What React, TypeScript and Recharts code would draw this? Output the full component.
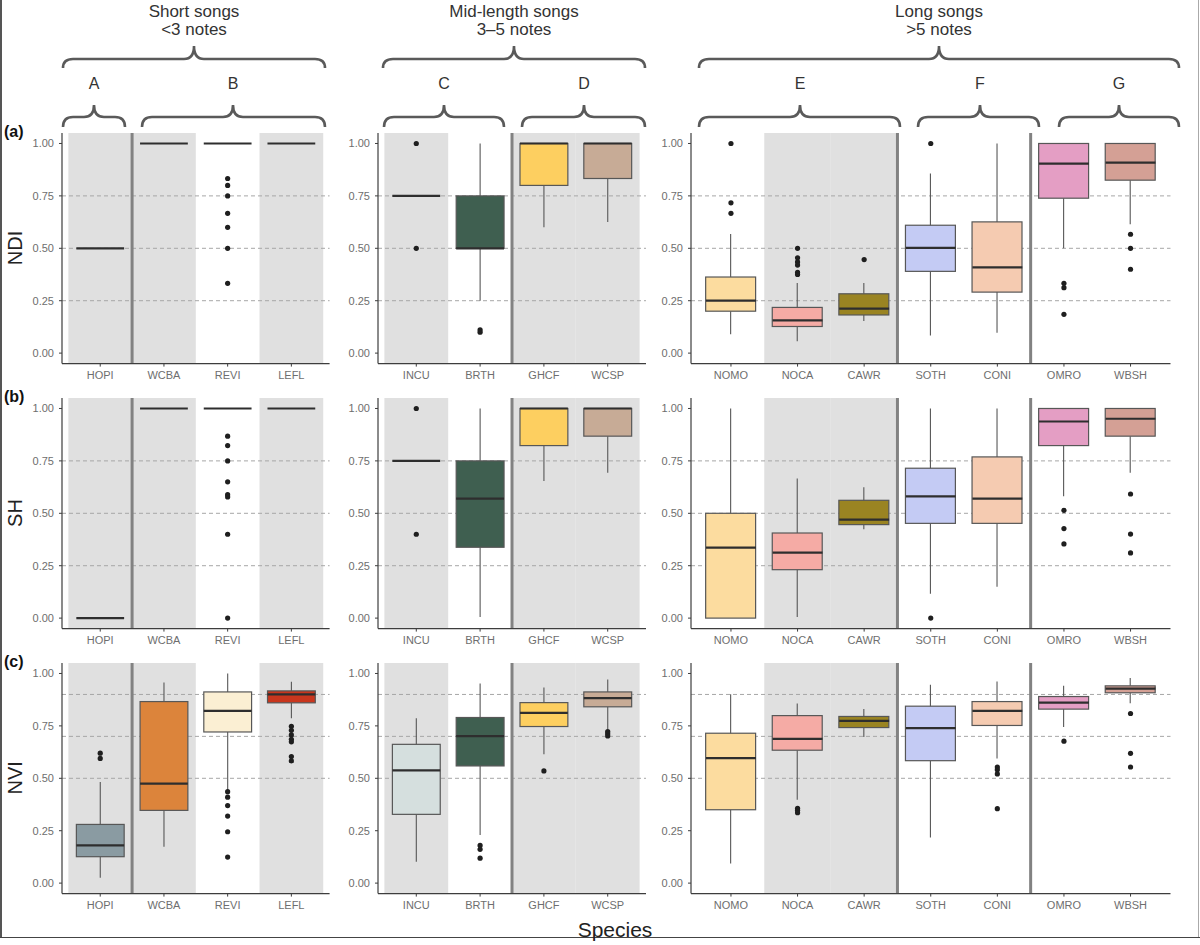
import React from "react";
import {
  ComposedChart,
  Bar,
  Scatter,
  XAxis,
  YAxis,
  ReferenceArea,
  ReferenceLine,
} from "recharts";

// species per column
const shortSpecies = ["HOPI", "WCBA", "REVI", "LEFL"];
const midSpecies = ["INCU", "BRTH", "GHCF", "WCSP"];
const longSpecies = ["NOMO", "NOCA", "CAWR", "SOTH", "CONI", "OMRO", "WBSH"];

// song groups: letter + number of species in it
const shortGroups: [string, number][] = [["A", 1], ["B", 3]];
const midGroups: [string, number][] = [["C", 2], ["D", 2]];
const longGroups: [string, number][] = [["E", 3], ["F", 2], ["G", 2]];

// species with grey background
const shortShaded = ["HOPI", "WCBA", "LEFL"];
const midShaded = ["INCU", "GHCF", "WCSP"];
const longShaded = ["NOCA", "CAWR"];

// box stats: [lower whisker, q1, median, q3, upper whisker]
const ndiShort = [
  [0.5, 0.5, 0.5, 0.5, 0.5],
  [1, 1, 1, 1, 1],
  [1, 1, 1, 1, 1],
  [1, 1, 1, 1, 1],
];
const ndiShortOut = [[], [], [0.833, 0.8, 0.75, 0.667, 0.6, 0.5, 0.333], []];
const ndiMid = [
  [0.75, 0.75, 0.75, 0.75, 0.75],
  [0.25, 0.5, 0.5, 0.75, 1],
  [0.6, 0.8, 1, 1, 1],
  [0.625, 0.833, 1, 1, 1],
];
const ndiMidOut = [[1, 0.5], [0.111, 0.1], [], []];
const ndiLong = [
  [0.09, 0.2, 0.25, 0.363, 0.568],
  [0.057, 0.127, 0.156, 0.218, 0.334],
  [0.153, 0.182, 0.212, 0.283, 0.334],
  [0.084, 0.39, 0.502, 0.61, 0.857],
  [0.097, 0.291, 0.409, 0.626, 1],
  [0.5, 0.739, 0.904, 1, 1],
  [0.615, 0.825, 0.909, 1, 1],
];
const ndiLongOut = [
  [1, 0.717, 0.667],
  [0.5, 0.455, 0.435, 0.42, 0.385, 0.375],
  [0.446],
  [1],
  [],
  [0.333, 0.312, 0.185],
  [0.567, 0.5, 0.4],
];

const shShort = [
  [0, 0, 0, 0, 0],
  [1, 1, 1, 1, 1],
  [1, 1, 1, 1, 1],
  [1, 1, 1, 1, 1],
];
const shShortOut = [[], [], [0.868, 0.823, 0.75, 0.65, 0.589, 0.578, 0.4, 0], []];
const shMid = [
  [0.75, 0.75, 0.75, 0.75, 0.75],
  [0.005, 0.338, 0.57, 0.75, 1],
  [0.654, 0.823, 1, 1, 1],
  [0.693, 0.868, 1, 1, 1],
];
const shMidOut = [[1, 0.4], [], [], []];
const shLong = [
  [0, 0, 0.336, 0.5, 1],
  [0.005, 0.231, 0.312, 0.406, 0.666],
  [0.424, 0.446, 0.47, 0.562, 0.624],
  [0.116, 0.452, 0.581, 0.715, 1],
  [0.15, 0.452, 0.57, 0.769, 1],
  [0.581, 0.823, 0.938, 1, 1],
  [0.694, 0.868, 0.951, 1, 1],
];
const shLongOut = [[], [], [], [0], [], [0.514, 0.427, 0.354], [0.592, 0.401, 0.311]];

const nviShort = [
  [0.025, 0.126, 0.18, 0.28, 0.482],
  [0.174, 0.347, 0.475, 0.866, 0.957],
  [0.444, 0.721, 0.822, 0.912, 1],
  [0.787, 0.86, 0.9, 0.917, 0.96],
];
const nviShortOut = [
  [0.62, 0.595],
  [],
  [0.436, 0.41, 0.37, 0.32, 0.245, 0.124],
  [0.748, 0.729, 0.707, 0.686, 0.674, 0.604, 0.583],
];
const nviMid = [
  [0.102, 0.328, 0.538, 0.662, 0.787],
  [0.229, 0.559, 0.701, 0.79, 0.952],
  [0.615, 0.747, 0.812, 0.861, 0.933],
  [0.734, 0.841, 0.882, 0.912, 0.971],
];
const nviMidOut = [[], [0.18, 0.161, 0.119], [0.535], [0.723, 0.713, 0.702]];
const nviLong = [
  [0.094, 0.35, 0.596, 0.715, 0.901],
  [0.398, 0.634, 0.688, 0.799, 0.857],
  [0.697, 0.742, 0.774, 0.795, 0.83],
  [0.217, 0.584, 0.739, 0.844, 0.946],
  [0.594, 0.752, 0.822, 0.866, 0.962],
  [0.745, 0.83, 0.861, 0.89, 0.941],
  [0.858, 0.908, 0.928, 0.941, 0.978],
];
const nviLongOut = [
  [],
  [0.357, 0.347, 0.336],
  [],
  [],
  [0.554, 0.541, 0.521, 0.355],
  [0.677],
  [0.809, 0.619, 0.554],
];

const yTicks = [0, 0.25, 0.5, 0.75, 1];
const gridAB = [0.25, 0.5, 0.75];
const gridC = [0.5, 0.7, 0.9];

const speciesFill: Record<string, string> = {
  HOPI: "#8a9ba2",
  WCBA: "#dc843b",
  REVI: "#fbefd3",
  LEFL: "#c9361d",
  INCU: "#d5dfde",
  BRTH: "#3f5f50",
  GHCF: "#fdcf60",
  WCSP: "#c7ab96",
  NOMO: "#fcdc9f",
  NOCA: "#f5aba5",
  CAWR: "#9a8422",
  SOTH: "#c4cbf4",
  CONI: "#f5cbb1",
  OMRO: "#e49ec4",
  WBSH: "#d4a095",
};

const FONT = '"Liberation Sans", Arial, Helvetica, sans-serif';
const BOX_LINE = "#575757";
const AXIS = "#3d3d3d";
const TICK_TEXT = "#6e6e6e";

const YAXIS_W = 44;
const XAXIS_H = 30;
const MARGIN = { top: 6, right: 6, bottom: 0, left: 0 };

type PanelProps = {
  species: string[];
  stats: number[][];
  outliers: number[][];
  shaded: string[];
  groups: [string, number][];
  grid: number[];
  plotLeft: number;
  plotTop: number;
  plotW: number;
  plotH: number;
};

function Panel({
  species,
  stats,
  outliers,
  shaded,
  groups,
  grid,
  plotLeft,
  plotTop,
  plotW,
  plotH,
}: PanelProps) {
  const n = species.length;
  const barW = (0.75 * plotW) / (n + 0.2);
  const data = species.map((sp, i) => {
    const [lo, q1, med, q3, hi] = stats[i];
    return { x: i + 1, sp, base: lo, wLow: q1 - lo, box: q3 - q1, wHigh: hi - q3, med };
  });
  const points = outliers.flatMap((vals, i) => vals.map((v) => ({ x: i + 1, y: v })));
  const dividers: number[] = [];
  let acc = 0;
  groups.slice(0, -1).forEach(([, size]) => {
    acc += size;
    dividers.push(acc + 0.5);
  });

  const whisker = (p: any) => {
    const cx = p.x + p.width / 2;
    return <line x1={cx} x2={cx} y1={p.y} y2={p.y + p.height} stroke={BOX_LINE} strokeWidth={1.1} />;
  };
  const boxShape = (p: any) => {
    const sp = p.payload?.sp ?? species[p.index];
    return (
      <rect
        x={p.x}
        y={p.y}
        width={p.width}
        height={Math.max(p.height, 0)}
        fill={speciesFill[sp]}
        stroke={BOX_LINE}
        strokeWidth={1.2}
      />
    );
  };
  const medianShape = (p: any) => (
    <line x1={p.cx - barW / 2} x2={p.cx + barW / 2} y1={p.cy} y2={p.cy} stroke="#2e2e2e" strokeWidth={2.2} />
  );
  const dotShape = (p: any) => <circle cx={p.cx} cy={p.cy} r={2.6} fill="#1f1f1f" />;

  const width = YAXIS_W + plotW + MARGIN.right;
  const height = MARGIN.top + plotH + XAXIS_H;

  return (
    <div style={{ position: "absolute", left: plotLeft - YAXIS_W, top: plotTop - MARGIN.top }}>
      <ComposedChart width={width} height={height} data={data} margin={MARGIN} style={{ fontFamily: FONT }}>
        <XAxis
          type="number"
          dataKey="x"
          domain={[0.4, n + 0.6]}
          ticks={species.map((_, i) => i + 1)}
          tickFormatter={(v: number) => species[v - 1] ?? ""}
          interval={0}
          height={XAXIS_H}
          axisLine={{ stroke: AXIS, strokeWidth: 1.2 }}
          tickLine={{ stroke: AXIS }}
          tickSize={3}
          tickMargin={5}
          tick={{ fill: TICK_TEXT, fontSize: 11 }}
          allowDataOverflow
        />
        <YAxis
          type="number"
          domain={[-0.05, 1.05]}
          ticks={yTicks}
          tickFormatter={(v: number) => v.toFixed(2)}
          interval={0}
          width={YAXIS_W}
          axisLine={{ stroke: AXIS, strokeWidth: 1.2 }}
          tickLine={{ stroke: AXIS }}
          tickSize={3}
          tickMargin={5}
          tick={{ fill: TICK_TEXT, fontSize: 11 }}
          allowDataOverflow
        />
        {species.map((sp, i) =>
          shaded.includes(sp) ? (
            <ReferenceArea
              key={sp}
              x1={i + 0.5}
              x2={i + 1.5}
              fill="#e0e0e0"
              fillOpacity={1}
              stroke="none"
              zIndex={-80}
            />
          ) : null
        )}
        {grid.map((g) => (
          <ReferenceLine key={g} y={g} stroke="#a6a6a6" strokeDasharray="4 3" strokeWidth={1} zIndex={-70} />
        ))}
        {dividers.map((d) => (
          <ReferenceLine key={d} x={d} stroke="#828282" strokeWidth={3} zIndex={-60} />
        ))}
        <Bar dataKey="base" stackId="s" barSize={barW} fill="transparent" shape={() => <g />} isAnimationActive={false} />
        <Bar dataKey="wLow" stackId="s" barSize={barW} shape={whisker} isAnimationActive={false} />
        <Bar dataKey="box" stackId="s" barSize={barW} shape={boxShape} isAnimationActive={false} />
        <Bar dataKey="wHigh" stackId="s" barSize={barW} shape={whisker} isAnimationActive={false} />
        <Scatter dataKey="med" shape={medianShape} isAnimationActive={false} />
        <Scatter data={points} dataKey="y" shape={dotShape} isAnimationActive={false} />
      </ComposedChart>
    </div>
  );
}

// page layout
const columns = [
  { species: shortSpecies, groups: shortGroups, shaded: shortShaded, left: 61.7, w: 267.6 },
  { species: midSpecies, groups: midGroups, shaded: midShaded, left: 377.7, w: 268 },
  { species: longSpecies, groups: longGroups, shaded: longShaded, left: 690.7, w: 479.5 },
];
const rows = [
  { label: "NDI", tag: "(a)", top: 132.7, grid: gridAB, stats: [ndiShort, ndiMid, ndiLong], out: [ndiShortOut, ndiMidOut, ndiLongOut] },
  { label: "SH", tag: "(b)", top: 397.7, grid: gridAB, stats: [shShort, shMid, shLong], out: [shShortOut, shMidOut, shLongOut] },
  { label: "NVI", tag: "(c)", top: 662.5, grid: gridC, stats: [nviShort, nviMid, nviLong], out: [nviShortOut, nviMidOut, nviLongOut] },
];
const PLOT_H = 230.6;

const titles = [
  { x: 194, lines: ["Short songs", "<3 notes"], x1: 63, x2: 325 },
  { x: 514, lines: ["Mid-length songs", "3\u20135 notes"], x1: 383, x2: 645 },
  { x: 939, lines: ["Long songs", ">5 notes"], x1: 699, x2: 1179 },
];
const smallBraces = [
  { x: 94, x1: 63, x2: 125 },
  { x: 233, x1: 142, x2: 325 },
  { x: 444, x1: 384, x2: 504 },
  { x: 584, x1: 522, x2: 645 },
  { x: 800, x1: 699, x2: 900 },
  { x: 980, x1: 918, x2: 1039 },
  { x: 1119, x1: 1059, x2: 1179 },
];
const groupLetters = [...shortGroups, ...midGroups, ...longGroups].map(([g]) => g);

function bracePath(x1: number, x2: number, xm: number, yEnd: number, yH: number, yTip: number) {
  const r = 10;
  return `M${x1},${yEnd} Q${x1},${yH} ${x1 + r},${yH} L${xm - r},${yH} Q${xm},${yH} ${xm},${yTip} Q${xm},${yH} ${xm + r},${yH} L${x2 - r},${yH} Q${x2},${yH} ${x2},${yEnd}`;
}

export default function App() {
  return (
    <div style={{ position: "absolute", left: 0, top: 0, width: 1200, height: 945, background: "#fff", fontFamily: FONT }}>
      <svg width={1200} height={945} style={{ position: "absolute", left: 0, top: 0 }}>
        <line x1={1} x2={1} y1={0} y2={937} stroke="#555" strokeWidth={2} />
        <line x1={1198.5} x2={1198.5} y1={0} y2={937} stroke="#aaa" strokeWidth={1} />
        <line x1={0} x2={1200} y1={937.5} y2={937.5} stroke="#444" strokeWidth={1} />
        {titles.map((t) => (
          <g key={t.lines[0]}>
            <text x={t.x} y={17} textAnchor="middle" fontSize={17} fill="#333">{t.lines[0]}</text>
            <text x={t.x} y={35} textAnchor="middle" fontSize={17} fill="#333">{t.lines[1]}</text>
            <path d={bracePath(t.x1, t.x2, t.x, 68, 59, 46)} fill="none" stroke="#5a5a5a" strokeWidth={2.6} />
          </g>
        ))}
        {smallBraces.map((b, i) => (
          <g key={groupLetters[i]}>
            <text x={b.x} y={89} textAnchor="middle" fontSize={16} fill="#333">{groupLetters[i]}</text>
            <path d={bracePath(b.x1, b.x2, b.x, 127, 117, 105)} fill="none" stroke="#5a5a5a" strokeWidth={2.6} />
          </g>
        ))}
        {rows.map((r) => {
          const cy = r.top + PLOT_H / 2;
          return (
            <g key={r.label}>
              <text x={4} y={r.top + 4} fontSize={16} fontWeight="bold" fill="#111">{r.tag}</text>
              <text x={22} y={cy} fontSize={20} fill="#222" textAnchor="middle" transform={`rotate(-90 22 ${cy})`}>
                {r.label}
              </text>
            </g>
          );
        })}
        <text x={615} y={937} textAnchor="middle" fontSize={21} fill="#222">Species</text>
      </svg>
      {rows.map((r) =>
        columns.map((c, ci) => (
          <Panel
            key={r.label + ci}
            species={c.species}
            stats={r.stats[ci]}
            outliers={r.out[ci]}
            shaded={c.shaded}
            groups={c.groups}
            grid={r.grid}
            plotLeft={c.left}
            plotTop={r.top}
            plotW={c.w}
            plotH={PLOT_H}
          />
        ))
      )}
    </div>
  );
}
